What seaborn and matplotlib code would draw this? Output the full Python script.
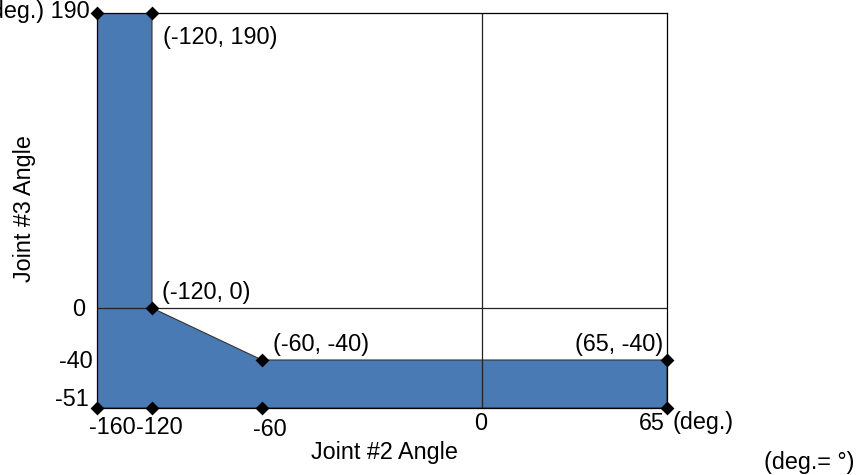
import numpy as np
import pandas as pd
import matplotlib
matplotlib.use("Agg")
import matplotlib.pyplot as plt
import seaborn as sns

# motion range outline (Joint #2 angle, Joint #3 angle), degrees
joint2 = [-160, -120, -120, -60, 65, 65, -160]
joint3 = [190, 190, 0, -40, -40, -51, -51]

# marked points
pt_j2 = [-160, -120, -120, -60, 65, 65, -60, -120, -160]
pt_j3 = [190, 190, 0, -40, -40, -51, -51, -51, -51]

x_ticks = [-160, -120, -60, 0, 65]
x_ticklabels = ["-160", "-120", "-60", "0", "65"]
y_ticks = [-51, -40, 0, 190]
y_ticklabels = ["-51", "-40", "0", "(deg.) 190"]

callouts = [("(-120, 190)", -120, 190), ("(-120, 0)", -120, 0),
            ("(-60, -40)", -60, -40), ("(65, -40)", 65, -40)]

sns.set_theme(style="white")
plt.rcParams['font.family'] = ['Liberation Sans', 'DejaVu Sans']
plt.rcParams['text.color'] = 'black'
plt.rcParams['axes.labelcolor'] = 'black'
FS = 16.8

# schematic (not-to-scale) axes: piecewise linear scale
x_pix = [0, 55, 165, 385, 570]
y_pix = [0, 48, 100, 395]


def xf(v):
    return np.interp(v, x_ticks, x_pix)


def xi(v):
    return np.interp(v, x_pix, x_ticks)


def yf(v):
    return np.interp(v, y_ticks, y_pix)


def yi(v):
    return np.interp(v, y_pix, y_ticks)


fig = plt.figure(figsize=(8.61, 4.75), dpi=100)
ax = fig.add_axes([97 / 861, 67 / 475, 570 / 861, 395 / 475])
ax.set_xscale('function', functions=(xf, xi))
ax.set_yscale('function', functions=(yf, yi))
ax.set_xlim(-160, 65)
ax.set_ylim(-51, 190)

ax.fill(joint2, joint3, facecolor="#4a7ab4", edgecolor="#333333", lw=0.8, zorder=1)
ax.axhline(0, color="#222222", lw=0.9, zorder=2)
ax.axvline(0, color="#222222", lw=0.9, zorder=2)

pts = pd.DataFrame({"j2": pt_j2, "j3": pt_j3})
sns.scatterplot(data=pts, x="j2", y="j3", marker="D", s=50, color="black",
                edgecolor="black", linewidth=0, ax=ax, zorder=5, clip_on=False)

for sp in ax.spines.values():
    sp.set_color("black")
    sp.set_linewidth(0.9)

# tick values, labels placed individually like the original drawing
ax.set_xticks(x_ticks)
ax.set_yticks(y_ticks)
ax.set_xticklabels([])
ax.set_yticklabels([])
ax.tick_params(length=0)
ax.minorticks_off()

x_off = [(15, -19), (7, -19), (8, -22), (-1, -15), (-15, -15)]
for v, lab, (dx, dy) in zip(x_ticks, x_ticklabels, x_off):
    ax.annotate(lab, (v, 0), xycoords=("data", "axes fraction"), xytext=(dx, dy),
                textcoords="offset pixels", ha="center", va="center", fontsize=FS,
                annotation_clip=False)
ax.annotate("(deg.)", (65, 0), xycoords=("data", "axes fraction"), xytext=(5, -15),
            textcoords="offset pixels", ha="left", va="center", fontsize=FS,
            annotation_clip=False)

y_off = [(-8, 8), (-4, -2), (-12, -2), (-7, 1)]
for v, lab, (dx, dy) in zip(y_ticks, y_ticklabels, y_off):
    ax.annotate(lab, (0, v), xycoords=("axes fraction", "data"), xytext=(dx, dy),
                textcoords="offset pixels", ha="right", va="center", fontsize=FS,
                annotation_clip=False)

ax.set_xlabel("Joint #2 Angle", fontsize=FS, va="center")
ax.xaxis.set_label_coords((384 - 97) / 570, (408 - 452) / 395)
ax.set_ylabel("Joint #3 Angle", fontsize=FS, va="center")
ax.yaxis.set_label_coords((25 - 97) / 570, (408 - 209) / 395)

call_off = [(11, -25, "left"), (10, 15, "left"), (11, 15, "left"), (-4, 15, "right")]
for (txt, cx, cy), (dx, dy, ha) in zip(callouts, call_off):
    ax.annotate(txt, (cx, cy), xytext=(dx, dy), textcoords="offset pixels",
                ha=ha, va="center", fontsize=FS)

fig.text(809 / 861, 1 - 463 / 475, "(deg.= °)", ha="center", va="center", fontsize=FS)

fig.savefig("out.png", dpi=100)
